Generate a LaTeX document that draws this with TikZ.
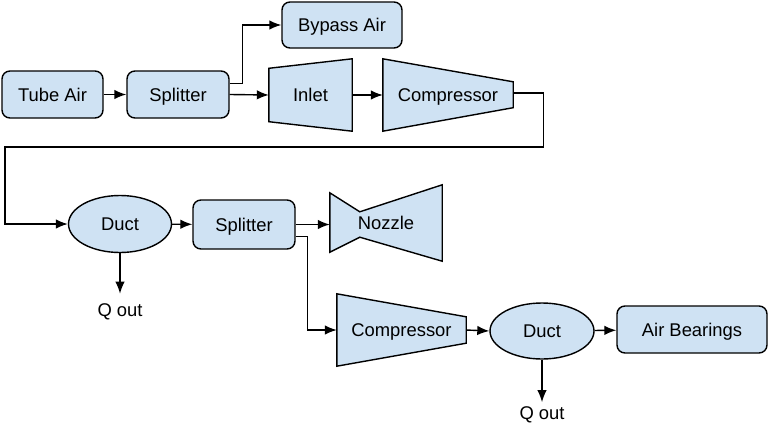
\documentclass[tikz,border=0pt]{standalone}
\usepackage{fontspec}
\setmainfont{Liberation Sans}
\usetikzlibrary{arrows.meta,positioning,shapes.geometric}
\definecolor{boxblue}{HTML}{CFE2F3}
\tikzset{
blockfont/.style={font=\fontsize{18.4pt}{22pt}\selectfont,text height=13.2pt,text depth=0pt},
block/.style={
  rectangle,
  rounded corners=8pt,
  draw=black,
  fill=boxblue,
  line width=1.4pt,
  minimum height=47pt,
  inner sep=0pt,
  blockfont
  },
duct/.style={
  ellipse,
  draw=black,
  fill=boxblue,
  line width=1.4pt,
  minimum width=103pt,
  minimum height=57pt,
  inner sep=0pt,
  blockfont
  },
turbo/.style={
  rectangle,
  inner sep=0pt,
  minimum height=72pt,
  blockfont
  },
outline/.style={draw=black,fill=boxblue,line width=1.4pt,line join=miter},
qtext/.style={inner sep=0pt,blockfont},
flow/.style={-{Latex[length=12pt,width=9.5pt]},line width=1.4pt}
}
\pgfdeclarelayer{background}
\pgfsetlayers{background,main}

\begin{document}
\begin{tikzpicture}[x=1pt,y=-1pt]
\useasboundingbox (0,0) rectangle (768,423);

% upper row
\node[block,minimum width=101pt] (tube) at (52.5,94.5) {Tube Air};
\node[block,minimum width=102pt] (split1) at (178,94.5) {Splitter};
\node[block,minimum width=120pt,minimum height=46pt] (bypass) at (342,25) {Bypass Air};
\node[turbo,minimum width=83pt] (inlet) at (310.5,95) {Inlet};
\node[turbo,minimum width=130pt] (comp1) at (448,95) {Compressor};

% middle row
\node[duct] (duct1) at (120,224) {Duct};
\node[block,minimum width=102pt,minimum height=49pt] (split2) at (244,224.5) {Splitter};
\node[turbo,minimum width=112pt,minimum height=76pt] (nozzle) at (386,223) {Nozzle};
\node[qtext] (qout1) at (120,309.5) {Q out};

% lower row
\node[turbo,minimum width=129pt] (comp2) at (401.5,330) {Compressor};
\node[duct,minimum width=104pt,minimum height=56pt] (duct2) at (542,331) {Duct};
\node[block,minimum width=150pt] (bearings) at (692,329.5) {Air Bearings};
\node[qtext] (qout2) at (542,413) {Q out};

\begin{pgfonlayer}{background}
\draw[outline] ([yshift=-9.5pt]inlet.north west) -- (inlet.north east)
  -- (inlet.south east) -- ([yshift=9.5pt]inlet.south west) -- cycle;
\draw[outline] (comp1.north west) -- ([yshift=-23pt]comp1.north east)
  -- ([yshift=23.5pt]comp1.south east) -- (comp1.south west) -- cycle;
\draw[outline] (comp2.north west) -- ([yshift=-23pt]comp2.north east)
  -- ([yshift=23pt]comp2.south east) -- (comp2.south west) -- cycle;
\draw[outline] ([yshift=-8pt]nozzle.north west)
  -- ([xshift=30pt,yshift=-27pt]nozzle.north west) -- (nozzle.north east)
  -- (nozzle.south east) -- ([xshift=30pt,yshift=24pt]nozzle.south west)
  -- ([yshift=9pt]nozzle.south west) -- cycle;
\end{pgfonlayer}

\coordinate (loopleft) at (5,147);

\draw[flow] (tube) -- (split1);
\draw[flow] (split1.east) -- (inlet.west);
\draw[flow] ([yshift=11pt]split1.east) -- ++(13,0) |- (bypass.west);
\draw[flow] (inlet.east) -- (comp1.west);
\draw[flow] ([yshift=2pt]comp1.east) -- ++(30,0) |- (loopleft) |- (duct1.west);
\draw[flow] (duct1) -- (split2);
\draw[flow] (split2.east) -- (split2.east -| nozzle.west);
\draw[flow] ([yshift=-12pt]split2.east) -- ++(12,0) |- (comp2.west);
\draw[flow] (duct1.south) -- ([yshift=9pt]qout1.north);
\draw[flow] (comp2.east) -- (duct2.west);
\draw[flow] (duct2) -- (bearings);
\draw[flow] (duct2.south) -- ([yshift=4pt]qout2.north);

\end{tikzpicture}
\end{document}
